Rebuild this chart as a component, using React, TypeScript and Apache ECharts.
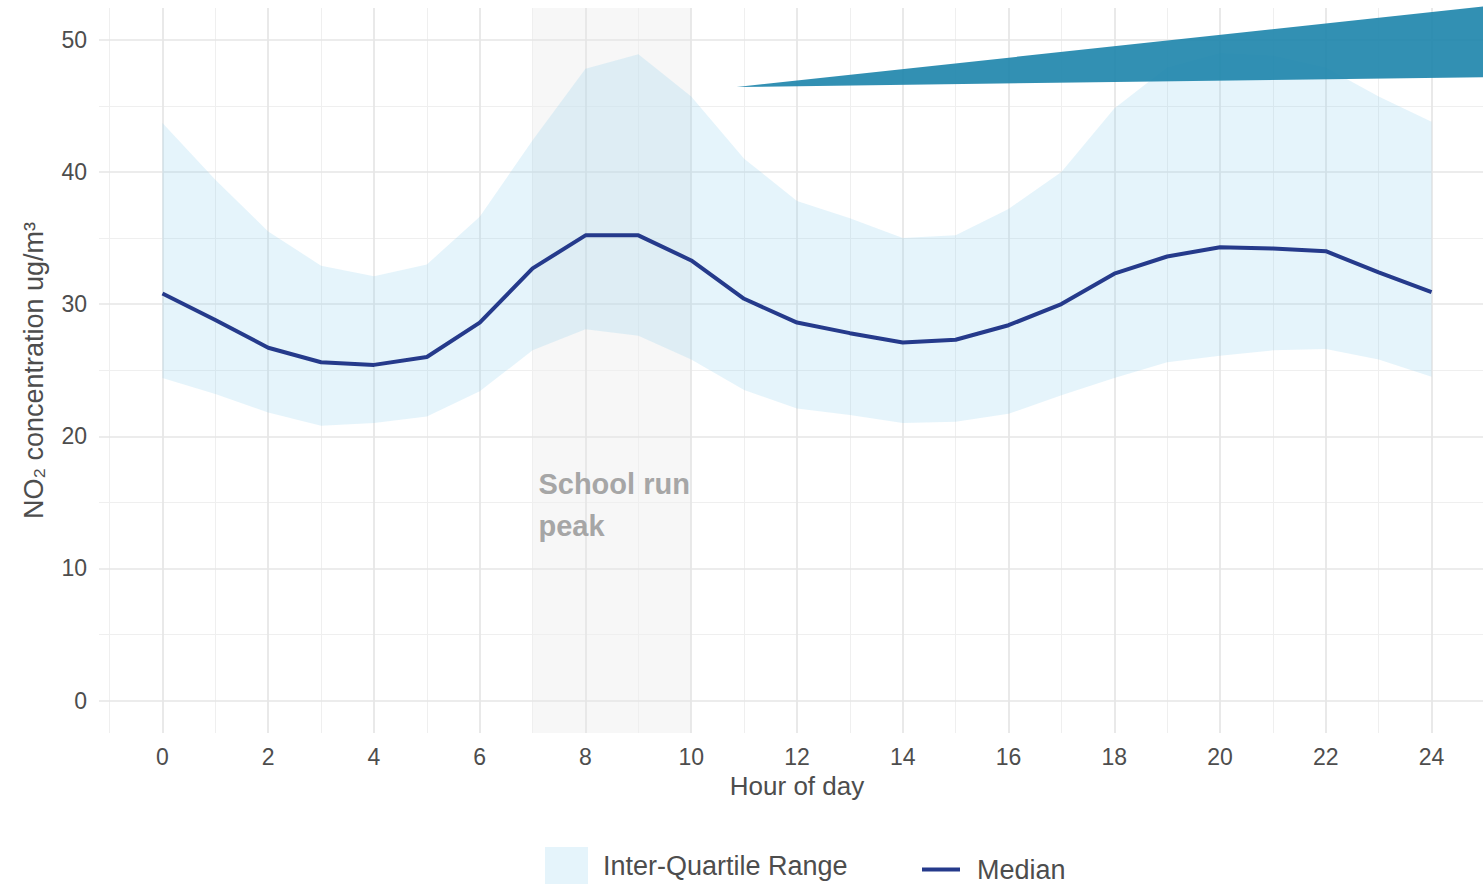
import React, { useEffect, useRef } from "react";
import * as echarts from "echarts";

// Hour of day
const hours = [0, 1, 2, 3, 4, 5, 6, 7, 8, 9, 10, 11, 12, 13, 14, 15, 16, 17, 18, 19, 20, 21, 22, 23, 24];
// Median NO2 concentration
const median = [30.8, 28.8, 26.7, 25.6, 25.4, 26.0, 28.6, 32.7, 35.2, 35.2, 33.3, 30.4, 28.6, 27.8, 27.1, 27.3, 28.4, 30.0, 32.3, 33.6, 34.3, 34.2, 34.0, 32.4, 30.9];
// Lower quartile
const q25 = [24.4, 23.2, 21.8, 20.8, 21.0, 21.5, 23.4, 26.5, 28.1, 27.6, 25.8, 23.5, 22.1, 21.6, 21.0, 21.1, 21.7, 23.1, 24.4, 25.6, 26.1, 26.5, 26.6, 25.8, 24.5];
// Upper quartile
const q75 = [43.7, 39.4, 35.5, 32.9, 32.1, 33.0, 36.6, 42.4, 47.8, 48.9, 45.7, 41.0, 37.8, 36.5, 35.0, 35.2, 37.2, 40.0, 44.8, 47.9, 49.0, 48.8, 47.9, 45.7, 43.8];

// Gridline positions
const xMajor = [0, 2, 4, 6, 8, 10, 12, 14, 16, 18, 20, 22, 24];
const xMinor = [-1, 1, 3, 5, 7, 9, 11, 13, 15, 17, 19, 21, 23, 25];
const yMajor = [0, 10, 20, 30, 40, 50];
const yMinor = [5, 15, 25, 35, 45];

// Highlighted window (school run)
const shadeFrom = 7;
const shadeTo = 10;
const shadeLabel = "School run\npeak";
const shadeLabelPos = [7.11, 18.0];

// Teal wedge annotation (hour, value)
const wedgeX = [10.86, 25.2, 25.2];
const wedgeY = [46.42, 52.62, 47.18];

const FONT = "'Liberation Sans', Arial, sans-serif";
const TXT = "#4d4d4d";

export default function App() {
  const ref = useRef<HTMLDivElement>(null);

  useEffect(() => {
    if (!ref.current) return;
    const chart = echarts.init(ref.current, undefined, { renderer: "svg" });

    const intLabel = (v: number) =>
      Math.abs(v - Math.round(v)) < 1e-6 ? String(Math.round(v) + 0) : "";

    const majorStyle = { color: "#e6e6e6", width: 1.7, type: "solid" };
    const minorStyle = { color: "#efefef", width: 1.1, type: "solid" };

    const gridLines = [
      ...xMinor.map((v) => ({ xAxis: v, lineStyle: minorStyle })),
      ...yMinor.map((v) => ({ yAxis: v, lineStyle: minorStyle })),
      ...xMajor.map((v) => ({ xAxis: v, lineStyle: majorStyle })),
      ...yMajor.map((v) => ({ yAxis: v, lineStyle: majorStyle })),
    ];

    const bandColor = "rgba(135,206,235,0.22)";
    const medianColor = "#253a8b";

    const option: any = {
      animation: false,
      textStyle: { fontFamily: FONT },
      grid: {
        left: 99,
        width: 1396,
        top: 8,
        bottom: 151,
        containLabel: false,
        outerBoundsMode: "none",
      },
      xAxis: {
        type: "value",
        min: -1.2,
        max: 25.2,
        splitNumber: 13,
        axisLine: { show: false },
        axisTick: { show: false },
        splitLine: { show: false },
        axisLabel: {
          formatter: intLabel,
          fontSize: 23,
          color: TXT,
          margin: 12,
          fontFamily: FONT,
        },
        name: "Hour of day",
        nameLocation: "middle",
        nameGap: 40,
        nameTextStyle: { fontSize: 26, color: TXT, fontFamily: FONT },
      },
      yAxis: {
        type: "value",
        min: -2.45,
        max: 52.4,
        splitNumber: 5,
        axisLine: { show: false },
        axisTick: { show: false },
        splitLine: { show: false },
        axisLabel: {
          formatter: intLabel,
          fontSize: 23,
          color: TXT,
          margin: 12,
          fontFamily: FONT,
        },
        name: "NO₂ concentration ug/m³",
        nameLocation: "middle",
        nameGap: 52,
        nameTextStyle: { fontSize: 27, color: TXT, fontFamily: FONT },
      },
      legend: [
        {
          left: 545,
          top: 847,
          padding: 0,
          itemWidth: 43,
          itemHeight: 38,
          data: [
            {
              name: "Inter-Quartile Range",
              icon: "rect",
              itemStyle: { color: bandColor, borderWidth: 0 },
            },
          ],
          textStyle: { fontSize: 27, color: TXT, fontFamily: FONT, padding: [6, 0, 0, 10] },
          selectedMode: false,
        },
        {
          left: 922,
          top: 856,
          padding: 0,
          itemWidth: 38,
          itemHeight: 4,
          data: [
            {
              name: "Median",
              icon: "rect",
              itemStyle: { color: medianColor, borderWidth: 0 },
            },
          ],
          textStyle: { fontSize: 27, color: TXT, fontFamily: FONT, padding: [0, 0, 0, 12] },
          selectedMode: false,
        },
      ],
      series: [
        {
          name: "grid",
          type: "line",
          data: [],
          silent: true,
          z: 0,
          markArea: {
            silent: true,
            z: 0,
            itemStyle: { color: "rgba(0,0,0,0.03)" },
            data: [[{ xAxis: shadeFrom }, { xAxis: shadeTo }]],
          },
          markLine: {
            silent: true,
            z: 1,
            symbol: "none",
            label: { show: false },
            emphasis: { disabled: true },
            animation: false,
            data: gridLines,
          },
          markPoint: {
            silent: true,
            z: 6,
            symbol: "circle",
            symbolSize: 0,
            data: [
              {
                coord: shadeLabelPos,
                label: {
                  show: true,
                  formatter: shadeLabel,
                  position: "inside",
                  align: "left",
                  verticalAlign: "top",
                  fontSize: 29,
                  fontWeight: "bold",
                  lineHeight: 42,
                  color: "#a6a6a6",
                  fontFamily: FONT,
                },
              },
            ],
          },
        },
        {
          name: "Inter-Quartile Range",
          type: "custom",
          silent: true,
          z: 2,
          itemStyle: { color: bandColor },
          data: [[hours[0], q25[0]]],
          encode: { x: 0, y: 1 },
          renderItem: (_params: any, api: any) => {
            const upper = hours.map((h, i) => api.coord([h, q75[i]]));
            const lower = hours.map((h, i) => api.coord([h, q25[i]])).reverse();
            return {
              type: "polygon",
              shape: { points: upper.concat(lower) },
              style: { fill: bandColor },
            };
          },
        },
        {
          name: "Median",
          type: "line",
          symbol: "none",
          showSymbol: false,
          silent: true,
          z: 4,
          itemStyle: { color: medianColor },
          lineStyle: { color: medianColor, width: 4 },
          data: hours.map((h, i) => [h, median[i]]),
        },
        {
          name: "wedge",
          type: "custom",
          silent: true,
          clip: false,
          z: 5,
          data: [[wedgeX[0], wedgeY[0]]],
          encode: { x: 0, y: 1 },
          renderItem: (_params: any, api: any) => {
            const pts = wedgeX.map((x, i) => api.coord([x, wedgeY[i]]));
            return {
              type: "polygon",
              shape: { points: pts },
              style: { fill: "rgba(28,132,171,0.9)" },
            };
          },
        },
      ],
    };

    chart.setOption(option);
    return () => chart.dispose();
  }, []);

  return (
    <div
      ref={ref}
      style={{ position: "fixed", left: 0, top: 0, width: 1483, height: 884, background: "#fff" }}
    />
  );
}
